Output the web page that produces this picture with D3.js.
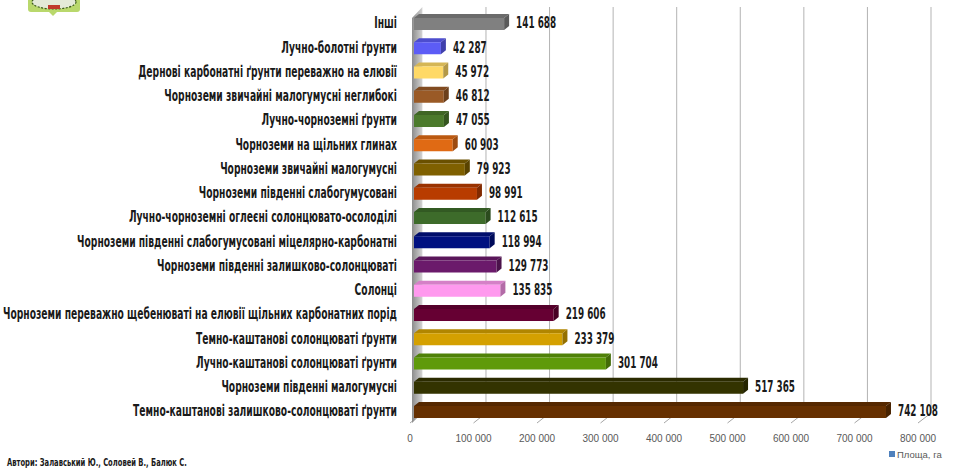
<!DOCTYPE html>
<html><head><meta charset="utf-8">
<script src="https://cdn.jsdelivr.net/npm/d3@7"></script>
<style>
html,body{margin:0;padding:0;background:#fff;}
svg{display:block;}
.cond{font-family:"Liberation Sans Narrow","DejaVu Sans Condensed","DejaVu Sans",sans-serif;font-stretch:condensed;font-weight:bold;}
</style></head>
<body>
<svg id="c" width="961" height="476"></svg>
<script>
const categories = [
  "Інші",
  "Лучно-болотні ґрунти",
  "Дернові карбонатні ґрунти переважно на елювії",
  "Чорноземи звичайні малогумусні неглибокі",
  "Лучно-чорноземні ґрунти",
  "Чорноземи на щільних глинах",
  "Чорноземи звичайні малогумусні",
  "Чорноземи південні слабогумусовані",
  "Лучно-чорноземні оглеєні солонцювато-осолоділі",
  "Чорноземи південні слабогумусовані міцелярно-карбонатні",
  "Чорноземи південні залишково-солонцюваті",
  "Солонці",
  "Чорноземи переважно щебенюваті на елювії щільних карбонатних порід",
  "Темно-каштанові солонцюваті ґрунти",
  "Лучно-каштанові солонцюваті ґрунти",
  "Чорноземи південні малогумусні",
  "Темно-каштанові залишково-солонцюваті ґрунти"
];
const values = [141688, 42287, 45972, 46812, 47055, 60903, 79923, 98991, 112615, 118994, 129773, 135835, 219606, 233379, 301704, 517365, 742108];
const palette = ["#808080","#5c5cf6","#ffd966","#9a5a26","#4c7a2c","#e06a14","#7f6000","#b83c00","#3d6b2a","#001080","#6b1a6b","#ff99ee","#660033","#d4a000","#5f9a0a","#333300","#663000"];
const tickValues = [0, 100000, 200000, 300000, 400000, 500000, 600000, 700000, 800000];
const seriesName = "Площа, га";
const authors = "Автори: Залавський Ю., Соловей В., Балюк С.";

const svg = d3.select("#c");
const fmt = v => d3.format(",")(v).replace(/,/g, " ");

const xBar = d3.scaleLinear().domain([0, 800000]).range([414, 922.8]);
const xBack = d3.scaleLinear().domain([0, 800000]).range([422.4, 931]);
const xFloor = d3.scaleLinear().domain([0, 800000]).range([410, 918]);
const y = d3.scaleBand().domain(categories).range([9.875, 422.125]).paddingInner(0.34).paddingOuter(0.17);
const bw = y.bandwidth();
const dx = 5, dy = 4;
const floorFront = 423, floorBack = 413, gridTop = 7;

// logo
const logo = svg.append("g");
logo.append("rect").attr("x", 28).attr("y", -6).attr("width", 52).attr("height", 18).attr("rx", 3).attr("fill", "#b9d86c");
logo.append("path").attr("d", "M49,12 L53,16 L57,12 Z").attr("fill", "#b9d86c");
logo.append("ellipse").attr("cx", 54).attr("cy", 2).attr("rx", 22).attr("ry", 7).attr("fill", "#e4ead8");
logo.append("ellipse").attr("cx", 54).attr("cy", 2).attr("rx", 22).attr("ry", 7).attr("fill", "none").attr("stroke", "#3d5a1e").attr("stroke-width", 1.2).attr("stroke-dasharray", "2,1.5");
logo.append("rect").attr("x", 48).attr("y", 5).attr("width", 12).attr("height", 4).attr("fill", "#c0392b");

// wall gradient
const defs = svg.append("defs");
const g = defs.append("linearGradient").attr("id", "wall").attr("x1", "0").attr("x2", "1").attr("y1", "0").attr("y2", "0");
g.append("stop").attr("offset", "0").attr("stop-color", "#8c8c8c");
g.append("stop").attr("offset", "1").attr("stop-color", "#d4d4d4");

// gridlines on back wall
svg.append("g").selectAll("line").data(tickValues.filter(v => v > 0)).join("line")
  .attr("x1", d => xBack(d)).attr("x2", d => xBack(d))
  .attr("y1", gridTop).attr("y2", floorBack)
  .attr("stroke", "#b3b3b3").attr("stroke-width", 1);

// floor tick lines
svg.append("g").selectAll("line").data(tickValues).join("line")
  .attr("x1", d => xFloor(d)).attr("y1", floorFront)
  .attr("x2", d => xBack(d)).attr("y2", floorBack)
  .attr("stroke", "#a6a6a6").attr("stroke-width", 1);

// left wall
svg.append("path")
  .attr("d", `M${xFloor(0)+2},${gridTop+11} L${xBack(0)},${gridTop} L${xBack(0)},${floorBack} L${xFloor(0)+2},${floorFront} Z`)
  .attr("fill", "url(#wall)");

// bars
const bars = svg.append("g").selectAll("g").data(categories).join("g");
bars.each(function(c, i) {
  const gg = d3.select(this);
  const x0 = xBar(0), x1 = xBar(values[i]), y0 = y(c);
  const col = d3.color(palette[i]);
  gg.append("path")
    .attr("d", `M${x0},${y0+dy} L${x1},${y0+dy} L${x1+dx},${y0} L${x0+dx},${y0} Z`)
    .attr("fill", col.darker(0.5));
  gg.append("rect").attr("x", x0).attr("y", y0 + dy).attr("width", x1 - x0).attr("height", bw - dy)
    .attr("fill", col);
  gg.append("path")
    .attr("d", `M${x1},${y0+dy} L${x1+dx},${y0} L${x1+dx},${y0+bw-dy} L${x1},${y0+bw} Z`)
    .attr("fill", col.darker(1));
});

// category labels
const catG = svg.append("g");
const catT = catG.selectAll("text").data(categories).join("text")
  .attr("class", "cond").attr("font-size", 15).attr("fill", "#1a1a1a")
  .attr("text-anchor", "end").attr("dominant-baseline", "central")
  .text(d => d);
let maxW = 0;
catT.each(function() { maxW = Math.max(maxW, this.getComputedTextLength()); });
const kCat = 394 / maxW;
catT.attr("transform", d => `translate(397,${y(d) + bw/2 + 1}) scale(${kCat},1)`);

// value labels
const valT = svg.append("g").selectAll("text").data(categories).join("text")
  .attr("class", "cond").attr("font-size", 16).attr("fill", "#1a1a1a")
  .attr("dominant-baseline", "central")
  .text((d, i) => fmt(values[i]));
let refW = 0;
valT.each(function(d, i) { if (values[i] === d3.max(values)) refW = this.getComputedTextLength(); });
const kVal = 40 / refW;
valT.attr("transform", (d, i) => `translate(${xBar(values[i]) + dx + 7},${y(d) + bw/2 + 1}) scale(${kVal},1)`);

// tick labels
svg.append("g").selectAll("text").data(tickValues).join("text")
  .attr("x", d => xFloor(d)).attr("y", 438)
  .attr("text-anchor", "middle").attr("dominant-baseline", "central")
  .attr("font-family", "Liberation Sans, Arial, sans-serif").attr("font-size", 10)
  .attr("fill", "#595959")
  .text(d => fmt(d));

// legend
svg.append("rect").attr("x", 889).attr("y", 451).attr("width", 6).attr("height", 6).attr("fill", "#4f81bd");
svg.append("text").attr("x", 897).attr("y", 454.5).attr("dominant-baseline", "central")
  .attr("font-family", "Liberation Sans, Arial, sans-serif").attr("font-size", 9.5).attr("fill", "#595959")
  .text(seriesName);

// authors
const au = svg.append("text").attr("class", "cond").attr("font-size", 10).attr("fill", "#1a1a1a")
  .attr("dominant-baseline", "central").text(authors);
const kAu = 180 / au.node().getComputedTextLength();
au.attr("transform", `translate(7,463) scale(${kAu},1)`);
</script>
</body></html>
